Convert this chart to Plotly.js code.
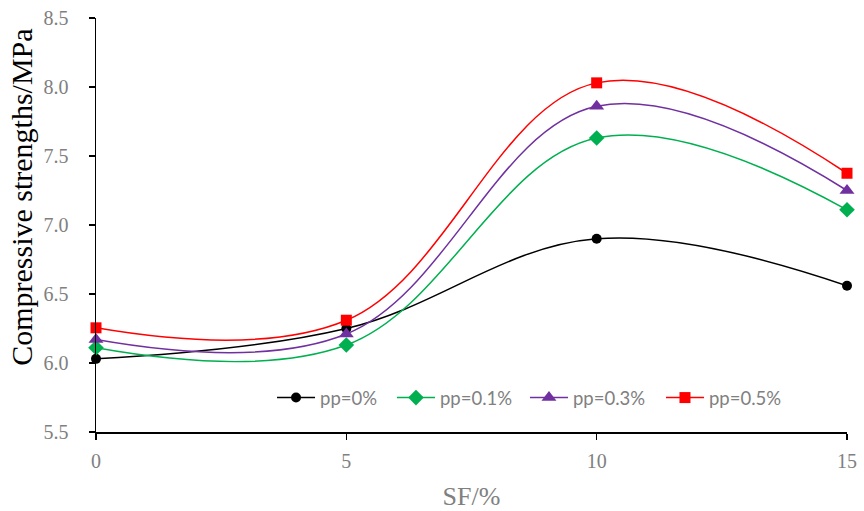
<!DOCTYPE html>
<html>
<head>
<meta charset="utf-8">
<script src="https://cdn.plot.ly/plotly-3.0.1.min.js"></script>
<style>html,body{margin:0;padding:0;background:#fff}#chart{width:864px;height:511px}</style>
</head>
<body>
<div id="chart"></div>
<script>
var sf = [0, 5, 10, 15];
var seriesNames = ["pp=0%", "pp=0.1%", "pp=0.3%", "pp=0.5%"];
var pp0 = [6.03, 6.25, 6.90, 6.56];
var pp01 = [6.11, 6.13, 7.63, 7.11];
var pp03 = [6.17, 6.21, 7.86, 7.25];
var pp05 = [6.255, 6.31, 8.03, 7.375];
var xTicks = [0, 5, 10, 15];
var yTicks = [5.5, 6.0, 6.5, 7.0, 7.5, 8.0, 8.5];
var yTickText = ["5.5", "6.0", "6.5", "7.0", "7.5", "8.0", "8.5"];

var colors = ["#000000", "#00b050", "#7030a0", "#ff0000"];
var symbols = ["circle", "diamond", "triangle-up", "square"];
var sizes = [10, 12, 13, 11];
var values = [pp0, pp01, pp03, pp05];
var legendIds = ["legend", "legend2", "legend3", "legend4"];
var legendX = [0.2344, 0.3941, 0.5712, 0.7523];

var traces = values.map(function (v, i) {
  return {
    x: sf, y: v, name: seriesNames[i], type: "scatter", mode: "lines+markers",
    line: {color: colors[i], width: 1.5, shape: "spline", smoothing: 1.1},
    marker: {color: colors[i], symbol: symbols[i], size: sizes[i]},
    cliponaxis: false, legend: legendIds[i]
  };
});

var serif = "Liberation Serif, Times New Roman, serif";
var layout = {
  width: 864, height: 511,
  margin: {l: 96, r: 17, t: 18, b: 79},
  paper_bgcolor: "#fff", plot_bgcolor: "#fff",
  showlegend: true,
  xaxis: {
    range: [0, 15], tickvals: xTicks, showgrid: false, zeroline: false,
    showline: true, linecolor: "#000", linewidth: 1.5,
    ticks: "outside", ticklen: 6, tickcolor: "#000", tickwidth: 1.5,
    ticklabelstandoff: 4,
    tickfont: {family: serif, size: 20, color: "#808080"},
    title: {text: "SF/%", font: {family: serif, size: 26, color: "#808080"}, standoff: 18}
  },
  yaxis: {
    range: [5.5, 8.5], tickvals: yTicks, ticktext: yTickText, showgrid: false, zeroline: false,
    showline: true, linecolor: "#000", linewidth: 1.5,
    ticks: "outside", ticklen: 6, tickcolor: "#000", tickwidth: 1.5,
    ticklabelstandoff: 16,
    tickfont: {family: serif, size: 20, color: "#808080"}
  },
  annotations: [{
    text: "Compressive strengths/MPa", textangle: -90, showarrow: false,
    xref: "paper", yref: "paper", x: -0.0985, y: 0.568, xanchor: "center", yanchor: "middle",
    font: {family: serif, size: 30, color: "#000"}
  }]
};
legendIds.forEach(function (id, i) {
  layout[id] = {
    orientation: "h", x: legendX[i], y: 0.082, xanchor: "left", yanchor: "middle",
    font: {family: "Lato, sans-serif", size: 18.5, color: "#808080"},
    bgcolor: "rgba(0,0,0,0)", itemwidth: 38
  };
});

Plotly.newPlot("chart", traces, layout, {displayModeBar: false, staticPlot: true});
</script>
</body>
</html>
